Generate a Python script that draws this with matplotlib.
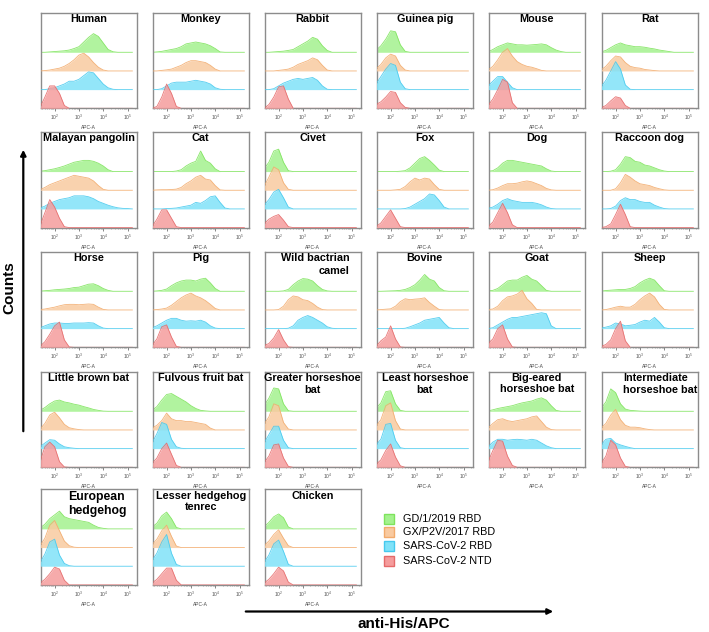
import matplotlib
matplotlib.use("Agg")
import matplotlib.pyplot as plt
from matplotlib.patches import Rectangle, FancyArrowPatch
from matplotlib.ticker import LogLocator, LogFormatterSciNotation, NullFormatter
import numpy as np

plt.rcParams["font.family"] = ["Liberation Sans", "DejaVu Sans"]

# log10 positions of the histogram bins (APC-A axis)
BIN_LOG = [1.4, 1.6, 1.8, 2.0, 2.2, 2.4, 2.6, 2.8, 3.0, 3.2,
           3.4, 3.6, 3.8, 4.0, 4.2, 4.4, 4.6, 4.8, 5.0, 5.2]

SPECIES = [
    "Human", "Monkey", "Rabbit", "Guinea pig", "Mouse", "Rat",
    "Malayan pangolin", "Cat", "Civet", "Fox", "Dog", "Raccoon dog",
    "Horse", "Pig", "Wild bactrian\ncamel", "Bovine", "Goat", "Sheep",
    "Little brown bat", "Fulvous fruit bat", "Greater horseshoe\nbat",
    "Least horseshoe\nbat", "Big-eared\nhorseshoe bat", "Intermediate\nhorseshoe bat",
    "European\nhedgehog", "Lesser hedgehog\ntenrec", "Chicken",
]

# relative counts per bin, one list per panel (in SPECIES order), trailing zeros omitted
GD1_RBD = [
    [0, 0, 0.02, 0.04, 0.06, 0.08, 0.12, 0.2, 0.3, 0.55, 0.8, 1.0, 0.85, 0.5, 0.15, 0.03],
    [0, 0.02, 0.05, 0.1, 0.15, 0.2, 0.3, 0.45, 0.5, 0.55, 0.5, 0.45, 0.35, 0.2, 0.02],
    [0, 0, 0.02, 0.04, 0.06, 0.1, 0.15, 0.3, 0.45, 0.6, 0.8, 0.7, 0.35, 0.1],
    [0.1, 0.35, 0.7, 1.15, 1.1, 0.4, 0.05],
    [0.02, 0.15, 0.3, 0.4, 0.5, 0.45, 0.4, 0.4, 0.38, 0.4, 0.42, 0.45, 0.4, 0.25, 0.12, 0.04],
    [0.02, 0.1, 0.25, 0.4, 0.5, 0.4, 0.35, 0.3, 0.3, 0.27, 0.22, 0.18, 0.12, 0.08, 0.04],
    [0.02, 0.05, 0.1, 0.15, 0.22, 0.3, 0.4, 0.5, 0.55, 0.6, 0.6, 0.55, 0.45, 0.3, 0.1],
    [0, 0, 0, 0, 0, 0.03, 0.1, 0.3, 0.45, 0.55, 1.1, 0.6, 0.45, 0.15],
    [0.15, 0.5, 1.1, 1.2, 0.5, 0.05],
    [0, 0, 0, 0, 0, 0.02, 0.05, 0.2, 0.45, 0.7, 0.8, 0.6, 0.35, 0.08],
    [0.02, 0.05, 0.2, 0.45, 0.6, 0.6, 0.55, 0.5, 0.45, 0.4, 0.35, 0.3, 0.15, 0.03],
    [0, 0, 0.02, 0.1, 0.4, 0.8, 0.75, 0.55, 0.5, 0.35, 0.3, 0.2, 0.1, 0.03],
    [0.01, 0.03, 0.05, 0.08, 0.1, 0.12, 0.15, 0.2, 0.22, 0.3, 0.38, 0.4, 0.3, 0.15, 0.05],
    [0, 0.02, 0.05, 0.12, 0.3, 0.45, 0.55, 0.6, 0.6, 0.55, 0.65, 0.7, 0.45, 0.15],
    [0, 0, 0, 0, 0.02, 0.1, 0.35, 0.55, 0.68, 0.65, 0.55, 0.3, 0.1, 0.02],
    [0, 0, 0.01, 0.02, 0.03, 0.05, 0.1, 0.2, 0.35, 0.6, 0.9, 0.65, 0.55, 0.2, 0.03],
    [0.02, 0.05, 0.15, 0.35, 0.55, 0.6, 0.6, 0.75, 0.85, 0.65, 0.55, 0.3, 0.05],
    [0.01, 0.04, 0.06, 0.08, 0.1, 0.1, 0.15, 0.25, 0.45, 0.6, 0.7, 0.6, 0.3, 0.03],
    [0.05, 0.2, 0.4, 0.55, 0.6, 0.5, 0.45, 0.38, 0.33, 0.25, 0.18, 0.1, 0.05, 0.01],
    [0.05, 0.25, 0.6, 0.9, 0.95, 0.8, 0.65, 0.5, 0.3, 0.15, 0.05, 0.02],
    [0.3, 0.7, 1.25, 1.2, 0.4, 0.03],
    [0.15, 0.45, 1.05, 1.1, 0.4, 0.05],
    [0.02, 0.08, 0.15, 0.2, 0.25, 0.3, 0.38, 0.45, 0.5, 0.55, 0.65, 0.72, 0.6, 0.3, 0.05],
    [0.15, 0.5, 1.2, 1.0, 0.4, 0.12, 0.05, 0.03, 0.01],
    [0.05, 0.25, 0.55, 0.75, 0.95, 0.65, 0.55, 0.5, 0.45, 0.4, 0.35, 0.2, 0.08, 0.03],
    [0.1, 0.3, 0.7, 0.9, 0.55, 0.08],
    [0.1, 0.35, 0.65, 0.8, 0.6, 0.1],
]

GX_RBD = [
    [0, 0.02, 0.05, 0.1, 0.15, 0.25, 0.4, 0.6, 0.85, 0.95, 0.75, 0.45, 0.2, 0.05],
    [0, 0, 0.03, 0.06, 0.1, 0.2, 0.3, 0.45, 0.55, 0.55, 0.5, 0.45, 0.3, 0.1],
    [0, 0, 0, 0.03, 0.06, 0.1, 0.2, 0.35, 0.45, 0.55, 0.7, 0.6, 0.3, 0.05],
    [0.1, 0.35, 0.7, 0.9, 0.8, 0.3, 0.05],
    [0.05, 0.25, 0.6, 1.0, 1.2, 0.8, 0.5, 0.35, 0.25, 0.2, 0.12, 0.03],
    [0.05, 0.25, 0.55, 0.8, 0.75, 0.45, 0.25, 0.18, 0.15, 0.08, 0.05, 0.02],
    [0.03, 0.15, 0.3, 0.4, 0.5, 0.6, 0.7, 0.8, 0.75, 0.7, 0.65, 0.5, 0.25, 0.05],
    [0, 0.02, 0.03, 0.03, 0.04, 0.06, 0.15, 0.35, 0.5, 0.7, 0.8, 0.6, 0.55, 0.25, 0.02],
    [0.2, 0.7, 1.25, 1.1, 0.4, 0.05],
    [0, 0, 0, 0, 0.02, 0.05, 0.2, 0.45, 0.65, 0.55, 0.65, 0.6, 0.3, 0.05],
    [0, 0.03, 0.12, 0.25, 0.35, 0.35, 0.38, 0.45, 0.5, 0.45, 0.35, 0.25, 0.1, 0.02],
    [0, 0, 0, 0.08, 0.4, 0.85, 0.7, 0.5, 0.35, 0.3, 0.25, 0.15, 0.08, 0.02],
    [0.02, 0.05, 0.1, 0.15, 0.22, 0.28, 0.3, 0.3, 0.28, 0.3, 0.32, 0.3, 0.15, 0.03],
    [0, 0.02, 0.05, 0.1, 0.25, 0.45, 0.65, 0.8, 0.9, 0.75, 0.65, 0.5, 0.3, 0.08],
    [0, 0, 0, 0.02, 0.2, 0.55, 0.75, 0.7, 0.55, 0.5, 0.35, 0.15, 0.02],
    [0, 0.02, 0.04, 0.06, 0.2, 0.45, 0.6, 0.55, 0.58, 0.6, 0.65, 0.4, 0.2, 0.02],
    [0.02, 0.05, 0.2, 0.5, 0.7, 0.75, 0.85, 1.05, 0.6, 0.35, 0.03],
    [0, 0.02, 0.08, 0.15, 0.2, 0.15, 0.15, 0.3, 0.55, 0.75, 0.9, 0.7, 0.3, 0.03],
    [0.05, 0.35, 0.8, 0.95, 0.65, 0.3, 0.12, 0.06, 0.02],
    [0.1, 0.25, 0.5, 0.9, 0.6, 0.5, 0.5, 0.45, 0.45, 0.4, 0.35, 0.3, 0.1],
    [0.3, 0.7, 1.4, 1.3, 0.4, 0.05],
    [0.2, 0.55, 1.3, 1.45, 0.5, 0.05],
    [0.1, 0.35, 0.55, 0.6, 0.5, 0.45, 0.5, 0.55, 0.6, 0.7, 0.75, 0.45, 0.15, 0.02],
    [0.1, 0.35, 0.8, 1.1, 0.55, 0.25, 0.15, 0.15, 0.12, 0.06, 0.02],
    [0.1, 0.5, 1.2, 1.45, 0.9, 0.35, 0.1, 0.02],
    [0.15, 0.45, 0.9, 1.2, 0.6, 0.08],
    [0.1, 0.35, 0.7, 0.95, 0.5, 0.1],
]

SARS2_RBD = [
    [0, 0, 0.05, 0.1, 0.2, 0.3, 0.45, 0.45, 0.55, 0.75, 0.95, 0.9, 0.6, 0.3, 0.1, 0.02],
    [0, 0, 0.05, 0.2, 0.35, 0.4, 0.4, 0.4, 0.45, 0.5, 0.45, 0.4, 0.3, 0.1, 0.02],
    [0, 0, 0.05, 0.2, 0.35, 0.45, 0.55, 0.6, 0.55, 0.6, 0.65, 0.5, 0.2, 0.02],
    [0.3, 0.7, 1.1, 1.4, 1.3, 0.4, 0.05],
    [0.2, 0.45, 0.7, 0.7, 0.4, 0.1],
    [0.15, 0.5, 1.0, 1.5, 1.1, 0.25, 0.02],
    [0.05, 0.15, 0.3, 0.4, 0.5, 0.55, 0.6, 0.7, 0.7, 0.7, 0.65, 0.55, 0.4, 0.3, 0.2, 0.12, 0.06, 0.03, 0.02],
    [0, 0, 0, 0.02, 0.03, 0.05, 0.1, 0.15, 0.2, 0.35, 0.3, 0.45, 0.65, 0.7, 0.35, 0.05],
    [0.2, 0.5, 0.9, 1.05, 0.6, 0.1],
    [0, 0, 0, 0, 0, 0, 0.02, 0.1, 0.25, 0.4, 0.55, 0.8, 0.75, 0.45, 0.1],
    [0.03, 0.1, 0.25, 0.45, 0.55, 0.45, 0.4, 0.35, 0.35, 0.35, 0.3, 0.22, 0.1, 0.02],
    [0, 0, 0.02, 0.15, 0.45, 0.6, 0.5, 0.5, 0.4, 0.35, 0.35, 0.2, 0.1, 0.02],
    [0.05, 0.15, 0.25, 0.3, 0.3, 0.28, 0.28, 0.3, 0.3, 0.3, 0.32, 0.3, 0.15, 0.03],
    [0.05, 0.15, 0.3, 0.45, 0.55, 0.55, 0.45, 0.4, 0.42, 0.4, 0.45, 0.35, 0.15, 0.03],
    [0, 0, 0, 0, 0, 0.02, 0.15, 0.45, 0.6, 0.7, 0.6, 0.45, 0.3, 0.1, 0.02],
    [0, 0, 0, 0, 0, 0, 0.02, 0.1, 0.2, 0.3, 0.45, 0.5, 0.55, 0.6, 0.3, 0.05],
    [0, 0.05, 0.2, 0.35, 0.5, 0.6, 0.6, 0.65, 0.7, 0.75, 0.8, 0.85, 0.8, 0.15],
    [0.03, 0.08, 0.15, 0.3, 0.25, 0.15, 0.18, 0.22, 0.35, 0.45, 0.4, 0.6, 0.35, 0.05],
    [0.1, 0.3, 0.48, 0.45, 0.25, 0.1, 0.05, 0.02],
    [0.3, 0.8, 1.4, 1.3, 0.5, 0.1, 0.02],
    [0.3, 0.75, 1.2, 1.2, 0.45, 0.05],
    [0.2, 0.5, 1.3, 1.35, 0.45, 0.05],
    [0.1, 0.35, 0.5, 0.5, 0.45, 0.48, 0.5, 0.48, 0.45, 0.5, 0.45, 0.3, 0.15, 0.05],
    [0.2, 0.5, 0.55, 0.3, 0.2, 0.12, 0.05],
    [0.2, 0.65, 1.3, 1.45, 0.6, 0.15, 0.03],
    [0.3, 0.7, 1.3, 1.7, 0.7, 0.1],
    [0.2, 0.6, 1.2, 1.4, 0.8, 0.1],
]

SARS2_NTD = [
    [0.05, 0.6, 1.2, 1.2, 0.8, 0.15],
    [0, 0.1, 0.6, 1.3, 0.8, 0.1],
    [0, 0.2, 0.6, 1.15, 1.2, 0.5],
    [0.2, 0.35, 0.6, 0.9, 0.85, 0.3, 0.05],
    [0.15, 0.5, 1.0, 1.55, 1.4, 0.3],
    [0.03, 0.15, 0.4, 0.62, 0.55, 0.15],
    [0.1, 0.8, 1.5, 1.1, 0.5, 0.05],
    [0.05, 0.45, 0.95, 0.95, 0.5, 0.05],
    [0.2, 0.45, 0.6, 0.7, 0.4, 0.05],
    [0.05, 0.25, 0.6, 0.95, 0.5, 0.05],
    [0.05, 0.3, 0.8, 1.3, 0.8, 0.15],
    [0, 0.05, 0.2, 0.7, 1.25, 0.7, 0.05],
    [0.05, 0.3, 0.7, 1.15, 1.35, 0.4, 0.02],
    [0.1, 0.45, 1.1, 1.2, 0.55, 0.05],
    [0.1, 0.2, 0.5, 0.95, 0.4, 0.02],
    [0.05, 0.35, 0.55, 1.15, 0.45, 0.02],
    [0.2, 0.45, 1.0, 1.2, 0.45, 0.02],
    [0.05, 0.15, 0.4, 1.0, 1.4, 0.35],
    [0.3, 1.1, 1.35, 1.1, 0.3, 0.02],
    [0.2, 0.5, 1.0, 1.3, 0.7, 0.1],
    [0.25, 0.6, 1.2, 1.25, 0.5, 0.05],
    [0.15, 0.4, 0.9, 1.25, 0.55, 0.08],
    [0.3, 0.9, 1.45, 1.4, 0.6, 0.1],
    [0.2, 0.6, 1.45, 1.2, 0.5, 0.05],
    [0.1, 0.3, 0.6, 0.95, 0.85, 0.25],
    [0.1, 0.3, 0.6, 0.9, 0.9, 0.25],
    [0.1, 0.3, 0.6, 0.95, 0.75, 0.15],
]

SERIES_NAMES = ["GD/1/2019 RBD", "GX/P2V/2017 RBD", "SARS-CoV-2 RBD", "SARS-CoV-2 NTD"]
FILL_COLORS = ["#a4f28e", "#f9caa0", "#80e2f8", "#f59c9c"]
EDGE_COLORS = ["#7ee35c", "#f2ab6c", "#45c9ee", "#e56a6a"]
BASELINES = [3, 2, 1, 0]

# title placement tweaks (x in axes fraction, horizontal alignment, font size, line spacing)
TITLE_STYLE = {
    "Wild bactrian\ncamel": (0.89, "right", 7.8, 1.4),
    "Intermediate\nhorseshoe bat": (0.22, "left", 7.8, 1.2),
    "European\nhedgehog": (0.28, "left", 8.8, 1.25),
    "Big-eared\nhorseshoe bat": (0.5, "center", 7.8, 1.1),
}

FIG_W, FIG_H = 709, 632
COL_LEFT = [41, 153, 265, 377, 489, 602]
ROW_TOP = [12.7, 132, 251.7, 371.7, 489.3]
PANEL_W, PANEL_H = 95.5, 95.6


def pad(vals):
    return np.array(list(vals) + [0] * (len(BIN_LOG) - len(vals)))


fig = plt.figure(figsize=(FIG_W / 100, FIG_H / 100), dpi=100)
x = 10 ** np.array(BIN_LOG)
all_series = [GD1_RBD, GX_RBD, SARS2_RBD, SARS2_NTD]

for i, name in enumerate(SPECIES):
    r, c = divmod(i, 6)
    left = COL_LEFT[c] / FIG_W
    bottom = 1 - (ROW_TOP[r] + PANEL_H) / FIG_H
    ax = fig.add_axes([left, bottom, PANEL_W / FIG_W, PANEL_H / FIG_H])
    ax.set_xscale("log")

    for k, series in enumerate(all_series):
        b = BASELINES[k]
        y = pad(series[i]) + b
        ax.fill_between(x, b, y, color=FILL_COLORS[k], alpha=0.85, lw=0, zorder=2 + k)
        ax.plot(x, y, color=EDGE_COLORS[k], lw=0.6, alpha=0.9, zorder=2 + k)

    ax.set_xlim(10 ** 1.44, 10 ** 5.37)
    ax.set_ylim(0, 5.12)
    ax.set_yticks([])
    ax.xaxis.set_major_locator(LogLocator(base=10, numticks=10))
    ax.xaxis.set_major_formatter(LogFormatterSciNotation())
    ax.xaxis.set_minor_locator(LogLocator(base=10, subs=np.arange(2, 10), numticks=20))
    ax.xaxis.set_minor_formatter(NullFormatter())
    ax.tick_params(axis="x", which="major", length=2, width=0.5, colors="#555555",
                   labelsize=3.5, pad=1.5)
    ax.tick_params(axis="x", which="minor", length=1, width=0.4, colors="#777777")
    ax.set_xlabel("APC-A", fontsize=3.5, color="#444444", labelpad=2)
    for s in ax.spines.values():
        s.set_color("#8c8c8c")
        s.set_linewidth(1.0)

    tx, ha, fs, ls = TITLE_STYLE.get(name, (0.5, "center", 7.8, 1.2))
    ax.text(tx, 0.985, name, transform=ax.transAxes, ha=ha, va="top",
            multialignment=ha, fontsize=fs, fontweight="bold", linespacing=ls,
            zorder=10)

# legend in the empty lower-right area
leg_y = [519, 532.3, 546, 560.7]
for k, lab in enumerate(SERIES_NAMES):
    yc = leg_y[k]
    fig.patches.append(Rectangle((384 / FIG_W, 1 - (yc + 5) / FIG_H), 10 / FIG_W, 10 / FIG_H,
                                 transform=fig.transFigure, facecolor=FILL_COLORS[k],
                                 edgecolor=EDGE_COLORS[k], lw=1.0))
    fig.text(403 / FIG_W, 1 - yc / FIG_H, lab, fontsize=7.8, va="center", ha="left")

# axis titles with arrows
fig.text(9 / FIG_W, 1 - 288 / FIG_H, "Counts", rotation=90, fontsize=11,
         fontweight="bold", ha="center", va="center")
fig.add_artist(FancyArrowPatch(
    (23.3 / FIG_W, 1 - 434 / FIG_H), (23.3 / FIG_W, 1 - 147 / FIG_H),
    transform=fig.transFigure, arrowstyle="-|>", mutation_scale=8, lw=1.6, color="black"))
fig.add_artist(FancyArrowPatch(
    (243 / FIG_W, 1 - 611.5 / FIG_H), (556 / FIG_W, 1 - 611.5 / FIG_H),
    transform=fig.transFigure, arrowstyle="-|>", mutation_scale=8, lw=1.6, color="black"))
fig.text(404 / FIG_W, 1 - 624 / FIG_H, "anti-His/APC", fontsize=11,
         fontweight="bold", ha="center", va="center")

fig.savefig("out.png", dpi=100)
